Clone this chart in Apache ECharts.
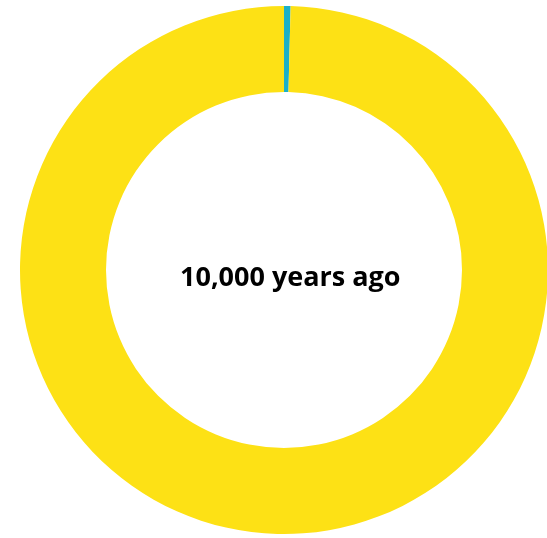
<!DOCTYPE html>
<html><head><meta charset="utf-8">
<script src="https://cdn.jsdelivr.net/npm/echarts@6/dist/echarts.min.js"></script>
<style>html,body{margin:0;padding:0;background:#fff}#c{width:547px;height:538px}</style>
</head><body><div id="c"></div>
<script>
const categories = ['Humans and livestock', 'Wild mammals'];
const values = [0.4, 99.6];
const centerLabel = '10,000 years ago';
const colors = ['#1BB0C8', '#FDE115'];

const chart = echarts.init(document.getElementById('c'), null, {renderer: 'canvas'});
chart.setOption({
  animation: false,
  series: [{
    type: 'pie',
    center: [284, 270],
    radius: [178, 264],
    startAngle: 90,
    clockwise: true,
    label: {show: false},
    labelLine: {show: false},
    silent: true,
    data: categories.map((c, i) => ({name: c, value: values[i], itemStyle: {color: colors[i]}}))
  }],
  graphic: [{
    type: 'text',
    left: 180, top: 265,
    style: {text: centerLabel, font: 'bold 27px "Open Sans", sans-serif', fill: '#000'}
  }]
});
</script></body></html>
